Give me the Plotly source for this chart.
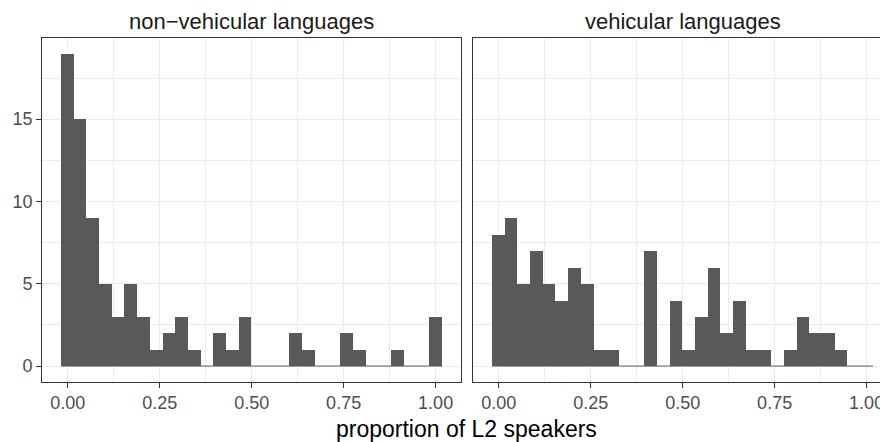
import plotly.graph_objects as go

# ---- data ----
panel_titles = ["non\u2212vehicular languages", "vehicular languages"]
n_bins = 30
bin_width = 1 / 29
bin_start = 0.0  # center of first bin
counts_non_vehicular = [19, 15, 9, 5, 3, 5, 3, 1, 2, 3, 1, 0, 2, 1, 3,
                        0, 0, 0, 2, 1, 0, 0, 2, 1, 0, 0, 1, 0, 0, 3]
counts_vehicular = [8, 9, 5, 7, 5, 4, 6, 5, 1, 1, 0, 0, 7, 0, 4,
                    1, 3, 6, 2, 4, 1, 1, 0, 1, 3, 2, 2, 1, 0, 0]
x_tickvals = [0, 0.25, 0.5, 0.75, 1.0]
x_ticktext = ["0.00", "0.25", "0.50", "0.75", "1.00"]
y_tickvals = [0, 5, 10, 15]
x_title = "proportion of L2 speakers"

centers = [bin_start + i * bin_width for i in range(n_bins)]
edge_lo = centers[0] - bin_width / 2
edge_hi = centers[-1] + bin_width / 2

# the page body has an 8px margin, so the figure starts at (8, 8) in the window
OFF = 8
WIN_W, WIN_H = 888, 442
W, H = WIN_W - OFF, WIN_H - OFF
BAR = "#595959"
GRID = "#EBEBEB"
BORDER = "#333333"
TICKC = "#4D4D4D"
FONT = "Liberation Sans, Arial, Helvetica, sans-serif"


def px_x(p):
    return (p - OFF) / W


def px_y(p):
    return 1 - (p - OFF) / H


# ggplot-style expanded ranges
span = edge_hi - edge_lo
xr = [edge_lo - 0.05 * span, edge_hi + 0.05 * span]
ymax = max(max(counts_non_vehicular), max(counts_vehicular))
yr = [-0.05 * ymax, ymax * 1.05]

# panel geometry in window pixels
left_px = (42.3, 461.0)
right_px_left = 473.3
px_per_unit = (left_px[1] - left_px[0]) / (xr[1] - xr[0])
right_xr = [xr[0], xr[0] + (WIN_W - right_px_left) / px_per_unit]
top_px, bot_px = 37.7, 381.7

fig = go.Figure()

for k, counts in enumerate([counts_non_vehicular, counts_vehicular]):
    xa = "x" if k == 0 else "x2"
    ya = "y" if k == 0 else "y2"
    fig.add_trace(go.Scatter(x=[edge_lo, edge_hi], y=[0, 0], mode="lines",
                             line=dict(color=BAR, width=1), xaxis=xa, yaxis=ya,
                             showlegend=False, hoverinfo="skip"))
    fig.add_trace(go.Bar(x=centers, y=counts, width=[bin_width] * n_bins,
                         marker=dict(color=BAR, line=dict(width=0)),
                         xaxis=xa, yaxis=ya, showlegend=False))

xcommon = dict(tickvals=x_tickvals, ticktext=x_ticktext, showgrid=True,
               gridcolor=GRID, gridwidth=1.3, zeroline=False,
               showline=True, linecolor=BORDER, linewidth=1.2, mirror=True,
               ticks="outside", ticklen=5, tickwidth=1.1, tickcolor=BORDER,
               tickfont=dict(family=FONT, size=18, color=TICKC),
               minor=dict(tickvals=[0.125, 0.375, 0.625, 0.875], showgrid=True,
                          gridcolor=GRID, gridwidth=0.7, ticks=""),
               fixedrange=True)
ycommon = dict(tickvals=y_tickvals, range=yr, showgrid=True,
               gridcolor=GRID, gridwidth=1.3, zeroline=False,
               showline=True, linecolor=BORDER, linewidth=1.2,
               minor=dict(tickvals=[2.5, 7.5, 12.5, 17.5], showgrid=True,
                          gridcolor=GRID, gridwidth=0.7, ticks=""),
               domain=[px_y(bot_px), px_y(top_px)], fixedrange=True)

fig.update_layout(
    width=W, height=H,
    margin=dict(l=0, r=0, t=0, b=0),
    paper_bgcolor="white", plot_bgcolor="white",
    bargap=0,
    xaxis=dict(**xcommon, range=xr, domain=[px_x(left_px[0]), px_x(left_px[1])], anchor="y"),
    xaxis2=dict(**xcommon, range=right_xr, domain=[px_x(right_px_left), 1.0], anchor="y2"),
    yaxis=dict(**ycommon, mirror=True, ticks="outside", ticklen=5, tickwidth=1.1,
               tickcolor=BORDER, tickfont=dict(family=FONT, size=18, color=TICKC),
               anchor="x"),
    yaxis2=dict(**ycommon, mirror=False, showticklabels=False, ticks="",
                anchor="x2", matches="y"),
    font=dict(family=FONT),
)

panel_w = left_px[1] - left_px[0]
centers_px = [(left_px[0] + left_px[1]) / 2, right_px_left + panel_w / 2]
for title, cx in zip(panel_titles, centers_px):
    fig.add_annotation(text=title, x=px_x(cx), y=px_y(22), xref="paper", yref="paper",
                       xanchor="center", yanchor="middle", showarrow=False,
                       font=dict(family=FONT, size=22, color="#1A1A1A"))

fig.add_annotation(text=x_title, x=px_x(466.7), y=px_y(429), xref="paper", yref="paper",
                   xanchor="center", yanchor="middle", showarrow=False,
                   font=dict(family=FONT, size=23, color="black"))

fig.write_html("out.html")
